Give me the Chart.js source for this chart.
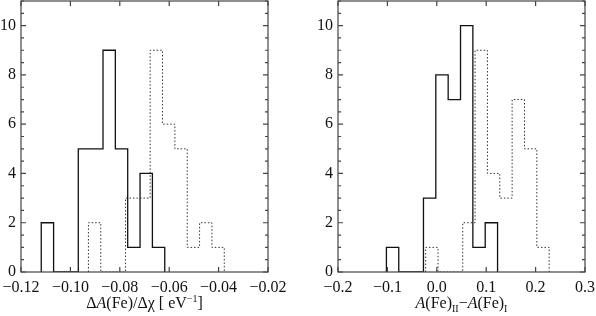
<!DOCTYPE html>
<html>
<head>
<meta charset="utf-8">
<script src="https://cdn.jsdelivr.net/npm/chart.js@4/dist/chart.umd.min.js"></script>
<style>
  html, body { margin: 0; padding: 0; background: #fff; }
  #wrap { position: relative; width: 596px; height: 316px; overflow: hidden; }
  canvas { position: absolute; top: 0; }
  .xtitle {
    position: absolute; top: 295px; width: 247px; text-align: center;
    font-family: 'Liberation Serif', serif; font-size: 16px; line-height: 16px; color: #111;
    white-space: nowrap;
  }
  .xtitle sup { font-size: 10px; vertical-align: 6px; line-height: 0; }
  .xtitle sub { font-size: 10px; vertical-align: -4px; line-height: 0; }
</style>
</head>
<body>
<div id="wrap">
  <canvas id="leftHist" width="298" height="316" style="left:0"></canvas>
  <canvas id="rightHist" width="298" height="316" style="left:298px"></canvas>
  <div class="xtitle" style="left:21px">&Delta;<i>A</i>(Fe)/&Delta;&chi; [ eV<sup>&minus;1</sup>]</div>
  <div class="xtitle" style="left:338px"><i>A</i>(Fe)<sub>II</sub>&minus;<i>A</i>(Fe)<sub>I</sub></div>
</div>
<script>
// bin edges and counts
const leftSolidEdges = [-0.1118, -0.1068, -0.1018, -0.0968, -0.0918, -0.0868, -0.0818, -0.0768, -0.0718, -0.0668, -0.0618];
const leftSolidCounts = [2, 0, 0, 5, 5, 9, 5, 1, 4, 1];
const leftDottedEdges = [-0.0927, -0.0877, -0.0827, -0.0777, -0.0727, -0.0677, -0.0627, -0.0577, -0.0527, -0.0477, -0.0427, -0.0377];
const leftDottedCounts = [2, 0, 0, 3, 3, 9, 6, 5, 1, 2, 1];

const rightSolidEdges = [-0.102, -0.077, -0.052, -0.027, -0.002, 0.023, 0.048, 0.073, 0.098, 0.123];
const rightSolidCounts = [1, 0, 0, 3, 8, 7, 10, 1, 2];
const rightDottedEdges = [-0.0225, 0.0025, 0.0275, 0.0525, 0.0775, 0.1025, 0.1275, 0.1525, 0.1775, 0.2025, 0.2275];
const rightDottedCounts = [1, 0, 0, 2, 9, 4, 3, 7, 5, 1];

// axis ranges and tick labels
const leftXTicks = [-0.12, -0.10, -0.08, -0.06, -0.04, -0.02];
const rightXTicks = [-0.2, -0.1, 0.0, 0.1, 0.2, 0.3];
const yTicks = [0, 2, 4, 6, 8, 10];
const yMax = 11;

const fontFamily = "'Liberation Serif', serif";
const frameColor = '#444';

function outline(edges, counts) {
  const pts = [{ x: edges[0], y: 0 }];
  counts.forEach((c, i) => pts.push({ x: edges[i], y: c }));
  const last = edges[edges.length - 1];
  pts.push({ x: last, y: counts[counts.length - 1] });
  pts.push({ x: last, y: 0 });
  return pts;
}

// frame round the plot plus inward tick marks
const frameTicks = {
  id: 'frameTicks',
  afterDraw(chart) {
    const { ctx, chartArea: a, scales: { x, y } } = chart;
    ctx.save();
    ctx.strokeStyle = frameColor;
    ctx.lineWidth = 1.2;
    ctx.strokeRect(a.left, a.top, a.right - a.left, a.bottom - a.top);
    ctx.beginPath();
    x.ticks.forEach(t => {
      const px = x.getPixelForValue(t.value);
      ctx.moveTo(px, a.bottom); ctx.lineTo(px, a.bottom - 5);
      ctx.moveTo(px, a.top); ctx.lineTo(px, a.top + 5);
    });
    for (let v = 0; v <= yMax; v += 0.5) {
      const py = y.getPixelForValue(v);
      const len = yTicks.includes(v) ? 5 : 3;
      ctx.moveTo(a.left, py); ctx.lineTo(a.left + len, py);
      ctx.moveTo(a.right, py); ctx.lineTo(a.right - len, py);
    }
    ctx.stroke();
    ctx.restore();
  }
};

function makeHist(id, solid, dotted, xTicks, digits, yWidth, rightPad) {
  const fmt = v => {
    const s = Math.abs(v).toFixed(digits);
    return v < -1e-9 ? '\u2212' + s : s;
  };
  new Chart(document.getElementById(id), {
    type: 'line',
    data: {
      datasets: [
        {
          data: outline(solid[0], solid[1]),
          stepped: 'before',
          borderColor: '#111',
          borderWidth: 1.3,
          pointRadius: 0,
          fill: false
        },
        {
          data: outline(dotted[0], dotted[1]),
          stepped: 'before',
          borderColor: '#333',
          borderWidth: 1,
          borderDash: [1.5, 2],
          pointRadius: 0,
          fill: false
        }
      ]
    },
    options: {
      responsive: false,
      devicePixelRatio: 1,
      animation: false,
      layout: { padding: { left: 0, right: rightPad, top: 1, bottom: 0 } },
      plugins: { legend: { display: false }, tooltip: { enabled: false } },
      scales: {
        x: {
          type: 'linear',
          min: xTicks[0],
          max: xTicks[xTicks.length - 1],
          grid: { display: false, drawTicks: false },
          border: { display: false },
          afterBuildTicks: s => { s.ticks = xTicks.map(v => ({ value: v })); },
          afterFit: s => { s.height = 44; s.paddingLeft = 0; s.paddingRight = 0; },
          ticks: {
            autoSkip: false,
            maxRotation: 0,
            padding: 6,
            color: '#111',
            font: { family: fontFamily, size: 16 },
            callback: v => fmt(v)
          }
        },
        y: {
          min: 0,
          max: yMax,
          grid: { display: false, drawTicks: false },
          border: { display: false },
          afterBuildTicks: s => { s.ticks = yTicks.map(v => ({ value: v })); },
          afterFit: s => { s.width = yWidth; s.paddingTop = 0; s.paddingBottom = 0; },
          ticks: {
            padding: 5,
            color: '#111',
            font: { family: fontFamily, size: 16 },
            callback: v => String(v)
          }
        }
      }
    },
    plugins: [frameTicks]
  });
}

function drawAll() {
  makeHist('leftHist', [leftSolidEdges, leftSolidCounts], [leftDottedEdges, leftDottedCounts], leftXTicks, 2, 21, 30);
  makeHist('rightHist', [rightSolidEdges, rightSolidCounts], [rightDottedEdges, rightDottedCounts], rightXTicks, 1, 40, 11);
}

document.fonts.load('16px "Liberation Serif"').then(drawAll, drawAll);
</script>
</body>
</html>
